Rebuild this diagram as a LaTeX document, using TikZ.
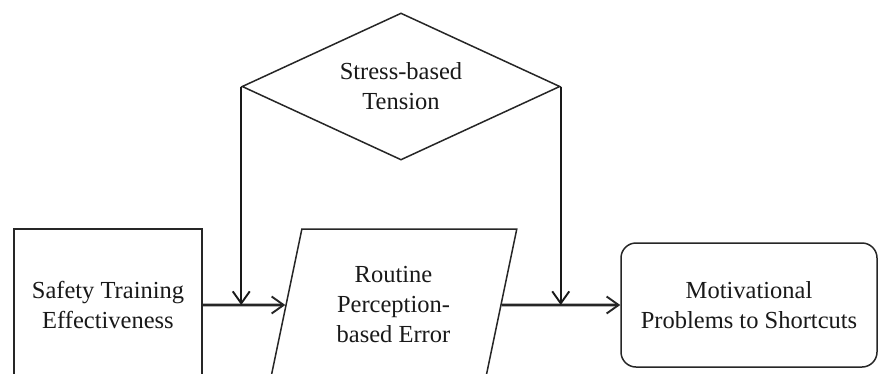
\documentclass[tikz,border=0pt]{standalone}
\usepackage{fontspec}
\setmainfont{Liberation Serif}
\usetikzlibrary{shapes.geometric,arrows.meta}

\tikzset{
  lbl/.style={align=center, font=\fontsize{24.5}{30}\selectfont, inner sep=0pt, text=black!90},
  boxline/.style={draw=black!85, line width=1.5pt},
  plainbox/.style={lbl, boxline, rectangle},
  slantbox/.style={lbl, boxline, trapezium, trapezium left angle=75.6, trapezium right angle=104.4, trapezium stretches=true},
  roundbox/.style={lbl, boxline, rectangle, rounded corners=15pt},
  decision/.style={lbl, boxline, diamond, aspect=2.16},
  tip/.style={-{Straight Barb[length=12pt,width=17pt,line width=1.9pt]}},
  vline/.style={tip, draw=black!90, line width=2pt},
  hline/.style={tip, draw=black!85, line width=2.8pt},
}

\begin{document}
\begin{tikzpicture}[x=1pt, y=-1pt]
  \useasboundingbox (0,0) rectangle (878,373);
  \fill[white] (0,0) rectangle (878,373);
  \clip (0,0) rectangle (878,373);

  % boxes
  \node[plainbox, minimum width=188pt, minimum height=152pt] (train) at (108,305)
    {Safety Training\\Effectiveness};
  \node[slantbox, minimum width=247pt, minimum height=152pt] (error) at (393.5,305)
    {Routine\\Perception-\\based Error};
  \node[roundbox, minimum width=256pt, minimum height=124pt] (motiv) at (749,305)
    {Motivational\\Problems to Shortcuts};
  \node[decision, minimum width=318pt, minimum height=147pt] (stress) at (401,86.5)
    {Stress-based\\Tension};

  % main chain
  \draw[hline] (train) -- (error);
  \draw[hline] (error) -- (motiv);

  % moderating influence from the diamond
  \draw[vline] (stress.west) -- (stress.west |- train.center);
  \draw[vline] (stress.east) -- (stress.east |- motiv.center);
\end{tikzpicture}
\end{document}
